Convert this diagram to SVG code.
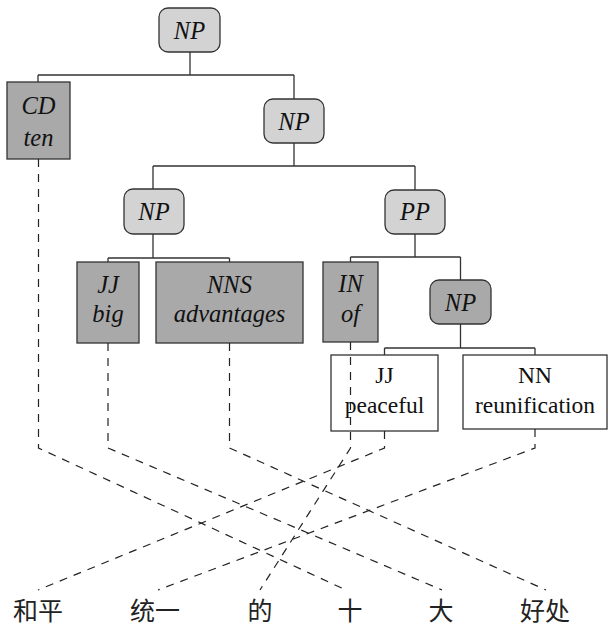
<svg xmlns="http://www.w3.org/2000/svg" width="608" height="627" viewBox="0 0 608 627">
<style>
.edge{fill:none;stroke:#333;stroke-width:1.3}
.align{fill:none;stroke:#222;stroke-width:1.2;stroke-dasharray:8,7}
.light{fill:#d3d3d3;stroke:#333;stroke-width:1.3}
.dark{fill:#a9a9a9;stroke:#333;stroke-width:1.3}
.white{fill:#fff;stroke:#333;stroke-width:1.3}
.it{font-family:"Liberation Serif","Times New Roman",serif;font-style:italic;font-size:24.5px;fill:#111;text-anchor:middle}
.up{font-family:"Liberation Serif","Times New Roman",serif;font-size:23.5px;fill:#111;text-anchor:middle}
.zh{font-family:"Noto Sans CJK SC","Noto Sans CJK JP",sans-serif;font-size:25px;fill:#222;text-anchor:middle}
</style>
<rect width="608" height="627" fill="#fff"/>
<g id="edges">
<path class="edge" d="M190,52V75M38,75H294M38,75V82M294,75V99"/>
<path class="edge" d="M294,143V166M153,166H415M153,166V189M415,166V190"/>
<path class="edge" d="M153,234V258M108,258H229.5M108,258V262M229.5,258V262"/>
<path class="edge" d="M415,234V257M350.5,257H460.5M350.5,257V262M460.5,257V280"/>
<path class="edge" d="M460.5,324V348M384.5,348H535M384.5,348V355M535,348V355"/>
</g>
<g id="np-root"><rect class="light" x="159" y="8" width="61" height="44" rx="9"/><text class="it" x="189.5" y="38.5">NP</text></g>
<g id="cd-ten"><rect class="dark" x="7" y="82" width="63" height="77"/><text class="it" x="38.5" y="114">CD</text><text class="it" x="38.5" y="146">ten</text></g>
<g id="np-2"><rect class="light" x="264" y="99" width="60" height="44" rx="9"/><text class="it" x="294" y="129.5">NP</text></g>
<g id="np-3"><rect class="light" x="124" y="189" width="60" height="45" rx="9"/><text class="it" x="154" y="219.5">NP</text></g>
<g id="pp"><rect class="light" x="385" y="190" width="60" height="44" rx="9"/><text class="it" x="415" y="220">PP</text></g>
<g id="jj-big"><rect class="dark" x="77" y="262" width="62" height="81"/><text class="it" x="108" y="293">JJ</text><text class="it" x="108" y="322">big</text></g>
<g id="nns-advantages"><rect class="dark" x="156" y="262" width="147" height="81"/><text class="it" x="229.5" y="293">NNS</text><text class="it" x="229.5" y="322">advantages</text></g>
<g id="in-of"><rect class="dark" x="323" y="262" width="55" height="80"/><text class="it" x="350.5" y="292">IN</text><text class="it" x="350.5" y="322">of</text></g>
<g id="np-4"><rect class="dark" x="430" y="280" width="61" height="44" rx="9"/><text class="it" x="460.5" y="311">NP</text></g>
<g id="jj-peaceful"><rect class="white" x="331" y="355" width="107" height="76"/><text class="up" x="384.5" y="383">JJ</text><text class="up" x="384.5" y="413">peaceful</text></g>
<g id="nn-reunification"><rect class="white" x="463" y="355" width="144" height="74"/><text class="up" x="535" y="383">NN</text><text class="up" x="535" y="413">reunification</text></g>
<g id="alignments">
<path class="align" d="M38.5,159V448L346,590"/>
<path class="align" d="M108,343V448L442,590"/>
<path class="align" d="M229.5,343V448L546,590"/>
<path class="align" d="M350.5,342V448L260,590"/>
<path class="align" d="M384.5,431V448L38,590"/>
<path class="align" d="M535,429V448L158,590"/>
</g>
<g id="words">
<text class="zh" x="38" y="620">和平</text>
<text class="zh" x="155" y="620">统一</text>
<text class="zh" x="260" y="620">的</text>
<text class="zh" x="350" y="620">十</text>
<text class="zh" x="441" y="620">大</text>
<text class="zh" x="545" y="620">好处</text>
</g>
</svg>
